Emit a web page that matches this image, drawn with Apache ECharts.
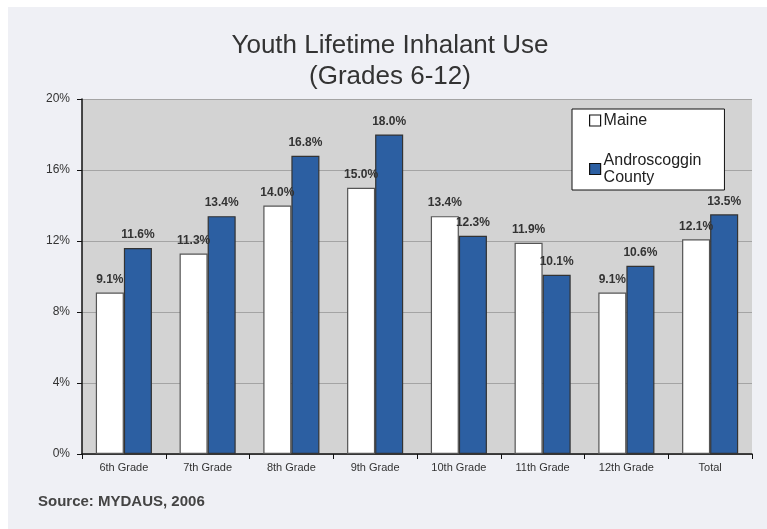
<!DOCTYPE html>
<html>
<head>
<meta charset="utf-8">
<script src="https://cdn.jsdelivr.net/npm/echarts@6/dist/echarts.min.js"></script>
<style>
  html, body { margin: 0; padding: 0; background: #fff; }
  #chart { width: 767px; height: 529px; }
</style>
</head>
<body>
<div id="chart"></div>
<script>
// 数据
const grades = ['6th Grade', '7th Grade', '8th Grade', '9th Grade', '10th Grade', '11th Grade', '12th Grade', 'Total']
const maine = [9.1, 11.3, 14.0, 15.0, 13.4, 11.9, 9.1, 12.1]
const androscoggin = [11.6, 13.4, 16.8, 18.0, 12.3, 10.1, 10.6, 13.5]
const yTicks = [0, 4, 8, 12, 16, 20]

const font = 'Liberation Sans, Arial, sans-serif'
const chart = echarts.init(document.getElementById('chart'), null, { renderer: 'canvas' })

const barLabel = {
  show: true,
  position: 'top',
  distance: 7,
  formatter: p => p.value.toFixed(1) + '%',
  color: '#333',
  fontSize: 12,
  fontWeight: 'bold',
  fontFamily: font,
}

chart.setOption({
  animation: false,
  backgroundColor: '#fff',
  graphic: [
    { type: 'rect', z: -10, shape: { x: 8, y: 7, width: 767, height: 529 }, style: { fill: '#eff0f5' } },
    {
      // 标题
      type: 'text', x: 390, y: 30,
      style: {
        text: 'Youth Lifetime Inhalant Use\n(Grades 6-12)',
        fill: '#333', font: '26px "Liberation Sans", Arial, sans-serif',
        lineHeight: 31, align: 'center', verticalAlign: 'top',
      },
    },
    {
      type: 'text', left: 38, top: 494,
      style: { text: 'Source: MYDAUS, 2006', fill: '#444', font: 'bold 15px "Liberation Sans", Arial, sans-serif' },
    },
  ],
  legend: {
    orient: 'vertical',
    left: 572,
    top: 109,
    padding: [3, 23, 4, 17],
    itemGap: 23,
    itemWidth: 11,
    itemHeight: 11,
    icon: 'rect',
    itemStyle: { borderWidth: 1.2, borderColor: '#111' },
    backgroundColor: '#fff',
    borderColor: '#111',
    borderWidth: 1,
    borderRadius: 0,
    textStyle: { fontSize: 16, color: '#222', lineHeight: 17, padding: [0, 0, 0, -2], fontFamily: font },
    data: ['Maine', 'Androscoggin\nCounty'],
  },
  grid: {
    left: 82, right: 15, top: 99, bottom: 75,
    show: true, backgroundColor: '#d3d3d3', borderWidth: 0,
  },
  xAxis: {
    type: 'category',
    data: grades,
    axisLine: { lineStyle: { color: '#111', width: 1.5 } },
    axisTick: { show: true, length: 5, lineStyle: { color: '#111' } },
    axisLabel: { fontSize: 11, color: '#333', margin: 8, fontFamily: font },
  },
  yAxis: {
    type: 'value',
    min: yTicks[0],
    max: yTicks[yTicks.length - 1],
    interval: yTicks[1] - yTicks[0],
    axisLine: { show: true, lineStyle: { color: '#111', width: 1.5 } },
    axisTick: { show: true, length: 5, lineStyle: { color: '#111' } },
    axisLabel: { formatter: '{value}%', fontSize: 12, color: '#333', margin: 12, fontFamily: font },
    splitLine: { lineStyle: { color: '#a4a4a4', width: 1 } },
  },
  series: [
    {
      name: 'Maine', type: 'bar', data: maine,
      barGap: '0%', barCategoryGap: '33%',
      itemStyle: { color: '#fff', borderColor: '#555', borderWidth: 1.2 },
      label: barLabel,
    },
    {
      name: 'Androscoggin\nCounty', type: 'bar', data: androscoggin,
      barGap: '0%', barCategoryGap: '33%',
      itemStyle: { color: '#2c5fa2', borderColor: '#333', borderWidth: 1.2 },
      label: barLabel,
    },
  ],
})
</script>
</body>
</html>
